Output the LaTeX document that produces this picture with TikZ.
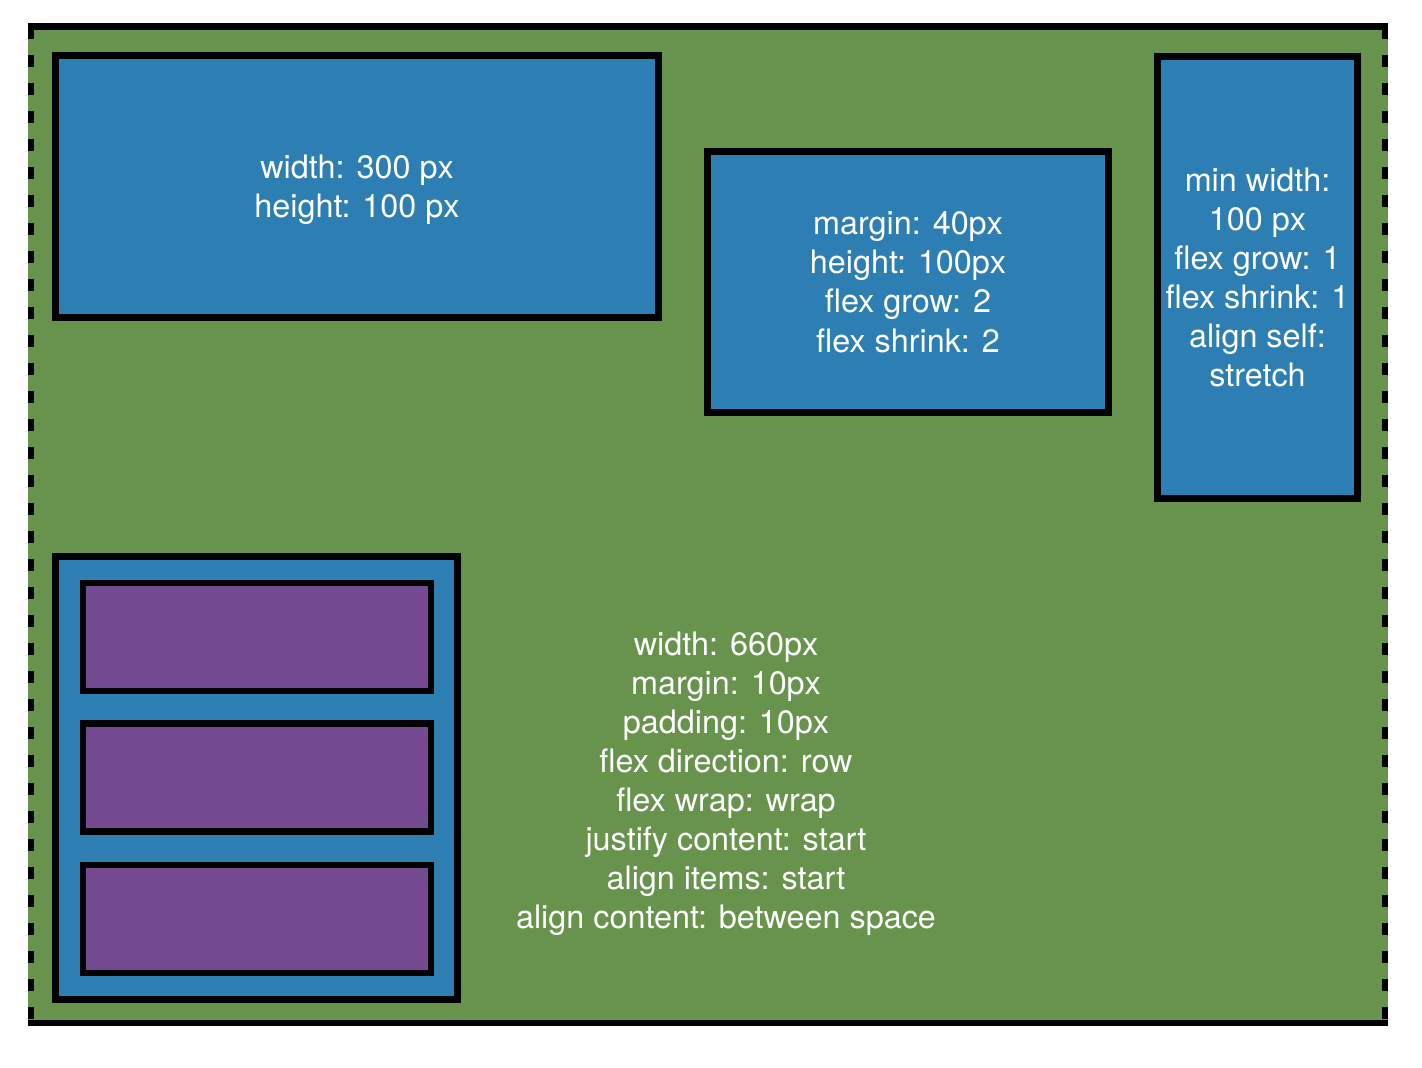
\documentclass[tikz,border=0pt]{standalone}
\usepackage{fontspec}
\setsansfont{TeX Gyre Heros}
\usepackage{tikz}
\usetikzlibrary{positioning}

\definecolor{flexgreen}{RGB}{103,147,77}
\definecolor{flexblue}{RGB}{45,127,179}
\definecolor{flexpurple}{RGB}{115,74,144}

\begin{document}
\begin{tikzpicture}[x=0.01cm, y=-0.01cm, line width=0.066cm,
    flexbox/.style={draw=black, fill=flexblue, align=center, text=white, inner sep=0pt,
        text depth=0pt, font=\sffamily\fontsize{9.2}{11.1}\selectfont},
    flexitem/.style={draw=black, fill=flexpurple, inner sep=0pt,
        minimum width=3.48cm, minimum height=1.08cm},
    label/.style={align=center, text=white, text depth=0pt,
        font=\sffamily\fontsize{9.2}{11.1}\selectfont}]
    \useasboundingbox[fill=white] (0,0) rectangle (1422,1067);

    % container
    \fill[flexgreen] (28,24) rectangle (1388,1025);
    \coordinate (tl) at (28,26.5);
    \coordinate (tr) at (1388,26.5);
    \coordinate (bl) at (28,1023);
    \coordinate (br) at (1388,1023);
    \draw (tl) -- (tr);
    \draw (bl) -- (br);
    \draw[dash pattern=on 0.12cm off 0.16cm] ([xshift=0.03cm]tl) -- ([xshift=0.03cm]bl);
    \draw[dash pattern=on 0.12cm off 0.16cm] ([xshift=-0.03cm]tr) -- ([xshift=-0.03cm]br);

    % items
    \node[flexbox, minimum width=6.03cm, minimum height=2.62cm] (fixed) at (357,186.5)
        {width: 300 px\\height: 100 px};
    \node[flexbox, minimum width=4.01cm, minimum height=2.61cm] (grower) at (908,282)
        {margin: 40px\\height: 100px\\flex grow: 2\\flex shrink: 2};
    \node[flexbox, minimum width=2.00cm, minimum height=4.42cm] (stretcher) at (1257.5,277.5)
        {min width:\\100 px\\flex grow: 1\\flex shrink: 1\\align self:\\stretch};
    \node[flexbox, minimum width=4.02cm, minimum height=4.43cm] (wrapper) at (256.5,778) {};

    \node[flexitem] (itemA) at (257,637) {};
    \node[flexitem] (itemB) at (257,777.5) {};
    \node[flexitem] (itemC) at (257,919) {};

    \node[label] (wrapinfo) at (726,780)
        {width: 660px\\margin: 10px\\padding: 10px\\flex direction: row\\flex wrap: wrap\\
         justify content: start\\align items: start\\align content: between space};
\end{tikzpicture}
\end{document}
